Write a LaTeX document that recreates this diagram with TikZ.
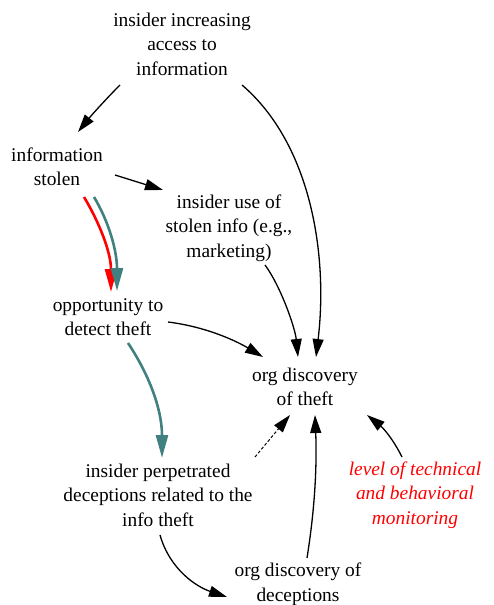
\documentclass[tikz,border=0pt]{standalone}
\usepackage{fontspec}
\setmainfont{Liberation Serif}
\usetikzlibrary{arrows.meta}
\definecolor{tealc}{RGB}{64,128,128}
\definecolor{redc}{RGB}{255,0,0}
\begin{document}
\begin{tikzpicture}[x=1pt,y=-1pt,
  lbl/.style={align=center,inner sep=0pt,font=\fontsize{19.4}{24.5}\selectfont},
  conn/.style={line width=1.3pt,-{Triangle[length=18pt,width=11pt]}},
  boldconn/.style={line width=2.6pt,-{Triangle[length=23pt,width=12pt]}},
  dconn/.style={line width=1pt,dash pattern=on 3pt off 2pt,-{Triangle[length=18pt,width=11pt]}}]
\useasboundingbox (0,0) rectangle (493,605);
\node[lbl] (A) at (182,44) {insider increasing\\access to\\information};
\node[lbl] (B) at (57,167) {information\\stolen};
\node[lbl] (C) at (229,228) {insider use of\\stolen info (e.g.,\\marketing)};
\node[lbl] (D) at (108,317) {opportunity to\\detect theft};
\node[lbl] (E) at (305,387) {org discovery\\of theft};
\node[lbl] (F) at (158,495) {insider perpetrated\\deceptions related to the\\info theft};
\node[lbl] (G) at (298,584) {org discovery of\\deceptions};
\node[lbl,text=redc,font=\fontsize{19.4}{24.5}\selectfont\itshape] (H) at (415,495) {level of technical\\and behavioral\\monitoring};
% edges
\draw[conn] ([shift={(-62,41)}]A.center) .. controls +(-15,15) and +(12,-15) .. ([shift={(21,-35)}]B.center);
\draw[conn] ([shift={(60,41)}]A.center) .. controls +(70,60) and +(12,-100) .. ([shift={(11,-30)}]E.center);
\draw[conn] ([shift={(58,8)}]B.center) -- ([shift={(-66,-38)}]C.center);
\draw[boldconn,draw=redc] ([shift={(27,30)}]B.center) .. controls +(15,25) and +(0,-40) .. ([shift={(3,-25)}]D.center);
\draw[boldconn,draw=tealc] ([shift={(37,30)}]B.center) .. controls +(15,25) and +(0,-40) .. ([shift={(9,-26)}]D.center);
\draw[conn] ([shift={(36,37)}]C.center) .. controls +(15,20) and +(-3,-30) .. ([shift={(-7,-30)}]E.center);
\draw[conn] ([shift={(60,5)}]D.center) .. controls +(40,5) and +(-25,-15) .. ([shift={(-42,-30)}]E.center);
\draw[boldconn,draw=tealc] ([shift={(20,26)}]D.center) .. controls +(20,30) and +(0,-50) .. ([shift={(4,-37)}]F.center);
\draw[dconn] ([shift={(97,-38)}]F.center) -- ([shift={(-15,28)}]E.center);
\draw[conn] ([shift={(2,40)}]F.center) .. controls +(10,35) and +(-30,-10) .. ([shift={(-71,13)}]G.center);
\draw[conn] ([shift={(9,-26)}]G.center) .. controls +(8,-50) and +(2,50) .. ([shift={(10,28)}]E.center);
\draw[conn] ([shift={(-13,-38)}]H.center) .. controls +(-10,-20) and +(15,12) .. ([shift={(62,28)}]E.center);
\end{tikzpicture}
\end{document}
